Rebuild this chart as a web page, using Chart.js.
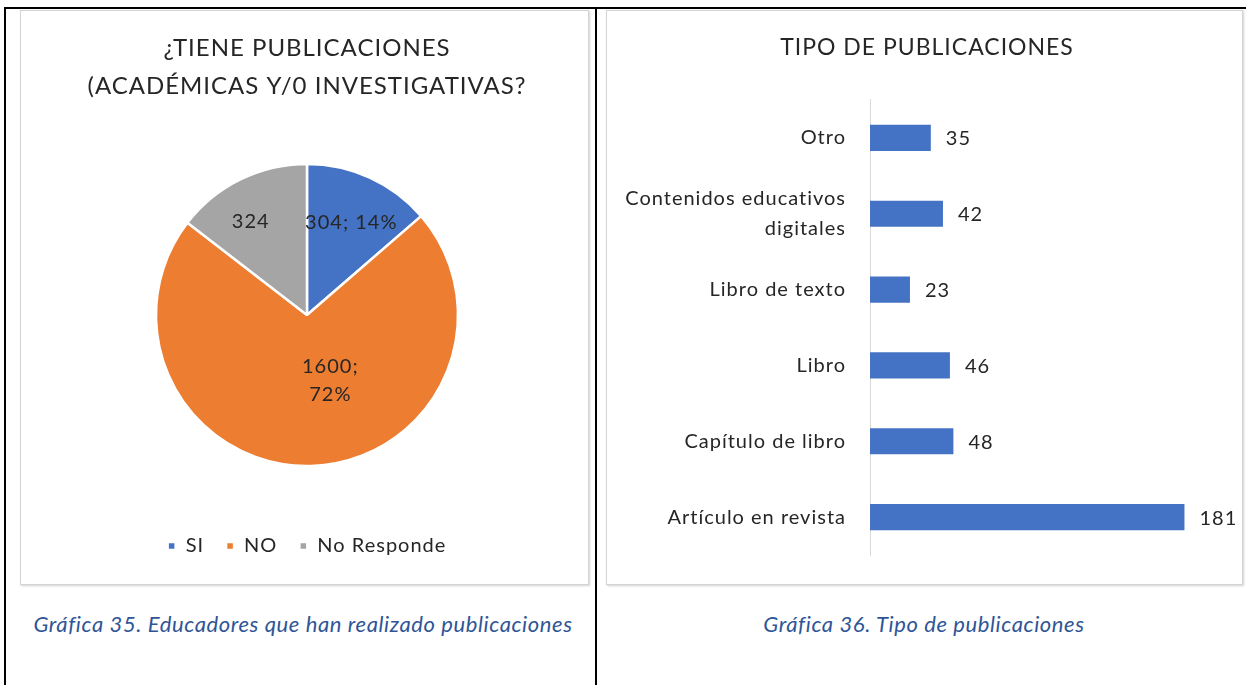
<!DOCTYPE html>
<html>
<head>
<meta charset="utf-8">
<script src="https://cdn.jsdelivr.net/npm/chart.js@4.4.1/dist/chart.umd.min.js"></script>
<style>
  html, body { margin: 0; padding: 0; background: #ffffff; }
  body { width: 1246px; height: 685px; position: relative; overflow: hidden; font-family: Lato, "Open Sans", sans-serif; }
  .line { position: absolute; background: #000; }
  .frame { position: absolute; border: 1px solid #d4d4d4; box-shadow: 1px 1px 2px rgba(0,0,0,0.18); background: #fff; box-sizing: border-box; }
  .cv { position: absolute; }
  .caption { position: absolute; font-family: Lato, sans-serif; font-style: italic; font-size: 22px; letter-spacing: 0.6px; color: #2f5597; white-space: nowrap; transform: translateX(-50%); }
</style>
</head>
<body>
<div class="line" style="left:4px; top:7px; width:1242px; height:2px;"></div>
<div class="line" style="left:4px; top:7px; width:2px; height:678px;"></div>
<div class="line" style="left:595px; top:7px; width:2px; height:678px;"></div>

<div class="frame" style="left:20px; top:10px; width:569px; height:575px;"></div>
<div class="frame" style="left:606px; top:10px; width:637px; height:575px;"></div>

<div class="cv" style="left:21px; top:11px; width:567px; height:555px;"><canvas id="pie"></canvas></div>
<div class="cv" style="left:607px; top:11px; width:640px; height:583px;"><canvas id="bar"></canvas></div>

<div class="caption" style="left:303px; top:610px;">Gráfica 35. Educadores que han realizado publicaciones</div>
<div class="caption" style="left:924px; top:610px;">Gráfica 36. Tipo de publicaciones</div>

<script>
// ---- Data: pie ----
const pieTitle = ["¿TIENE PUBLICACIONES", "(ACADÉMICAS Y/0 INVESTIGATIVAS?"];
const pieCategories = ["SI", "NO", "No Responde"];
const pieValues = [304, 1600, 324];
const pieShowPercent = [true, true, false];
const pieWrapLabel = [false, true, false];

// ---- Data: bar ----
const barTitle = "TIPO DE PUBLICACIONES";
const barCategories = ["Otro", ["Contenidos educativos", "digitales"], "Libro de texto", "Libro", "Capítulo de libro", "Artículo en revista"];
const barValues = [35, 42, 23, 46, 48, 181];
const barAxisMin = 0;
const barAxisMax = 217;

const FONT = "Lato";
const TEXT = "#262626";

// letter spacing for canvas text (to match the reference's wide text)
const spacing = {
  id: 'spacing',
  beforeUpdate(chart) { chart.ctx.letterSpacing = '1px'; },
  beforeLayout(chart) { chart.ctx.letterSpacing = '1px'; },
  beforeDraw(chart) { chart.ctx.letterSpacing = '1px'; }
};

// pie data label plugin
const pieLabels = {
  id: 'pieLabels',
  afterDatasetsDraw(chart, args, opts) {
    const ctx = chart.ctx;
    const meta = chart.getDatasetMeta(0);
    const vals = chart.data.datasets[0].data;
    const total = vals.reduce((a, b) => a + b, 0);
    ctx.save();
    ctx.font = `${opts.size}px ${FONT}`;
    ctx.fillStyle = TEXT;
    ctx.textAlign = 'center';
    ctx.textBaseline = 'middle';
    meta.data.forEach((arc, i) => {
      const p = arc.getProps(['x', 'y', 'startAngle', 'endAngle', 'outerRadius'], true);
      const mid = (p.startAngle + p.endAngle) / 2 + opts.angleOffset[i] * Math.PI / 180;
      const r = p.outerRadius * opts.radial[i];
      const cx = p.x + Math.cos(mid) * r;
      const cy = p.y + Math.sin(mid) * r;
      const v = vals[i];
      const pct = Math.round(v / total * 100) + '%';
      let lines;
      if (pieShowPercent[i]) {
        lines = pieWrapLabel[i] ? [v + ';', pct] : [v + '; ' + pct];
      } else {
        lines = [String(v)];
      }
      const lh = opts.lineHeight;
      lines.forEach((t, k) => {
        ctx.fillText(t, cx, cy + (k - (lines.length - 1) / 2) * lh);
      });
    });
    ctx.restore();
  }
};

// bar data label plugin
const barLabels = {
  id: 'barLabels',
  afterDatasetsDraw(chart, args, opts) {
    const ctx = chart.ctx;
    const meta = chart.getDatasetMeta(0);
    const vals = chart.data.datasets[0].data;
    ctx.save();
    ctx.font = `${opts.size}px ${FONT}`;
    ctx.fillStyle = TEXT;
    ctx.textAlign = 'left';
    ctx.textBaseline = 'middle';
    meta.data.forEach((bar, i) => {
      const p = bar.getProps(['x', 'y'], true);
      ctx.fillText(String(vals[i]), p.x + opts.gap, p.y + 1);
    });
    ctx.restore();
  }
};

new Chart(document.getElementById('pie'), {
  type: 'pie',
  data: {
    labels: pieCategories,
    datasets: [{
      data: pieValues,
      backgroundColor: ['#4472C4', '#ED7D31', '#A5A5A5'],
      borderColor: '#ffffff',
      borderWidth: 2.5,
      radius: 151
    }]
  },
  options: {
    responsive: true,
    maintainAspectRatio: false,
    animation: false,
    layout: { padding: { left: 5, right: 0, top: 0, bottom: 0 } },
    plugins: {
      title: {
        display: true,
        text: pieTitle,
        color: TEXT,
        font: { family: FONT, size: 24, weight: 'normal', lineHeight: 1.583 },
        padding: { top: 18, bottom: 11 }
      },
      legend: {
        position: 'bottom',
        labels: {
          color: TEXT,
          font: { family: FONT, size: 20 },
          boxWidth: 8,
          boxHeight: 8,
          padding: 22
        }
      },
      tooltip: { enabled: false },
      pieLabels: { size: 20, lineHeight: 28, radial: [0.68, 0.46, 0.72], angleOffset: [1, -18, -5] }
    }
  },
  plugins: [spacing, pieLabels]
});

new Chart(document.getElementById('bar'), {
  type: 'bar',
  data: {
    labels: barCategories,
    datasets: [{
      data: barValues,
      backgroundColor: '#4472C4',
      barPercentage: 0.345,
      categoryPercentage: 1
    }]
  },
  options: {
    indexAxis: 'y',
    responsive: true,
    maintainAspectRatio: false,
    animation: false,
    layout: { padding: { left: 0, right: 0, top: 0, bottom: 0 } },
    scales: {
      x: { display: false, min: barAxisMin, max: barAxisMax },
      y: {
        grid: { display: false, drawTicks: false, tickLength: 0 },
        border: { display: true, color: '#d9d9d9', width: 1 },
        ticks: { color: TEXT, font: { family: FONT, size: 20, lineHeight: 1.5 }, padding: 24 },
        afterFit(scale) { scale.width = 263; }
      }
    },
    plugins: {
      title: {
        display: true,
        text: barTitle,
        color: TEXT,
        font: { family: FONT, size: 23, weight: 'normal', lineHeight: 1.652 },
        padding: { top: 18, bottom: 33 }
      },
      legend: { display: false },
      tooltip: { enabled: false },
      barLabels: { size: 20, gap: 15 }
    }
  },
  plugins: [spacing, barLabels]
});
</script>
</body>
</html>
